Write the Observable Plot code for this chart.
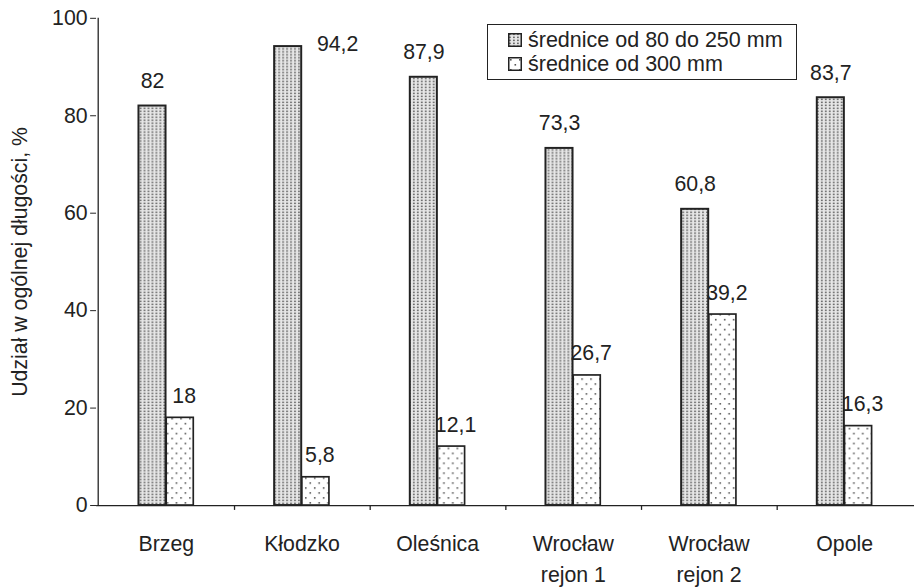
<!DOCTYPE html>
<html>
<head>
<meta charset="utf-8">
<script src="https://cdn.jsdelivr.net/npm/d3@7"></script>
<script src="https://cdn.jsdelivr.net/npm/@observablehq/plot@0.6"></script>
<style>
  html, body { margin: 0; padding: 0; background: #fff; overflow: hidden; }
  #chart { position: relative; width: 915px; height: 587px; overflow: hidden; }
  .legend {
    position: absolute; left: 487px; top: 24px; width: 310px; height: 56px;
    box-sizing: border-box; border: 1.5px solid #222; background: #fff;
    font: 21.5px "Liberation Sans", Arial, sans-serif; color: #222;
    padding: 3px 0 0 20px; line-height: 24px;
  }
  .legend .row { display: flex; align-items: center; white-space: nowrap; }
  .legend svg { margin-right: 6px; flex: none; }
</style>
</head>
<body>
<div id="chart"></div>
<script>
// Udział średnic w ogólnej długości sieci, według rejonów
const categories = ["Brzeg", "Kłodzko", "Oleśnica", "Wrocław\nrejon 1", "Wrocław\nrejon 2", "Opole"];
const smallDiam = [82, 94.2, 87.9, 73.3, 60.8, 83.7];   // średnice od 80 do 250 mm
const largeDiam = [18, 5.8, 12.1, 26.7, 39.2, 16.3];    // średnice od 300 mm
const seriesNames = ["średnice od 80 do 250 mm", "średnice od 300 mm"];
const yTicks = [0, 20, 40, 60, 80, 100];
const yLabel = "Udział w ogólnej długości, %";

const rows = categories.map((c, i) => ({category: c, small: smallDiam[i], large: largeDiam[i]}));
const fmt = v => String(v).replace(".", ",");

// layout
const W = 924, H = 587;
const mLeft = 97, mRight = 1, mTop = 18, mBottom = 77;
const step = (W - mLeft - mRight) / categories.length;
const barW = 28;
const half = step / 2;
const ink = "#222";
const fs = 21.5;
const font = '"Liberation Sans", Arial, sans-serif';

const patterns = `
  <pattern id="pat-small" patternUnits="userSpaceOnUse" width="4" height="3">
    <rect width="4" height="3" fill="#e6e6e6"/>
    <rect x="1" y="0.6" width="1.8" height="1.5" fill="#6a6a6a"/>
  </pattern>
  <pattern id="pat-large" patternUnits="userSpaceOnUse" width="9" height="10">
    <rect width="9" height="10" fill="#fff"/>
    <rect x="2" y="2" width="1.6" height="1.6" fill="#555"/>
    <rect x="6.5" y="7" width="1.6" height="1.6" fill="#555"/>
  </pattern>`;

const chart = Plot.plot({
  width: W, height: H,
  marginLeft: mLeft, marginRight: mRight, marginTop: mTop, marginBottom: mBottom,
  style: {fontFamily: font, fontSize: fs + "px", color: ink, background: "#fff", overflow: "visible"},
  x: {domain: categories, padding: 0, axis: null},
  y: {domain: [0, 100], axis: null},
  marks: [
    // bars
    Plot.barY(rows, {x: "category", y: "small", fill: "url(#pat-small)", stroke: ink, strokeWidth: 2,
      insetLeft: half - barW, insetRight: half}),
    Plot.barY(rows, {x: "category", y: "large", fill: "url(#pat-large)", stroke: ink, strokeWidth: 1.7,
      insetLeft: half, insetRight: half - barW}),
    // axis lines
    Plot.ruleY([0], {stroke: ink, strokeWidth: 1.3}),
    Plot.ruleX([categories[0]], {x: d => d, dx: -half, stroke: ink, strokeWidth: 1.3}),
    // separator ticks between categories
    Plot.ruleX(categories.slice(0, -1), {x: d => d, dx: half, y1: 0, y2: -1, stroke: ink, strokeWidth: 1.3}),
    Plot.axisY({ticks: yTicks, tickSize: 6, tickPadding: 3, label: null, stroke: ink, fill: ink, fontSize: fs}),
    Plot.axisX({tickSize: 0, tickPadding: 24, label: null, lineHeight: 1.45, fill: ink, fontSize: fs}),
    Plot.text([yLabel], {frameAnchor: "left", rotate: -90, dx: -77, textAnchor: "middle", fill: ink, fontSize: fs}),
    // value labels: above the bar, or beside it when the bar nearly reaches the top
    Plot.text(rows.filter(d => d.small <= 90), {x: "category", y: "small", text: d => fmt(d.small),
      dx: -barW / 2, dy: -25, fill: ink, fontSize: fs}),
    Plot.text(rows.filter(d => d.small > 90), {x: "category", y: "small", text: d => fmt(d.small),
      dx: 15, dy: -2, textAnchor: "start", fill: ink, fontSize: fs}),
    Plot.text(rows, {x: "category", y: "large", text: d => fmt(d.large),
      dx: barW / 2 + 4, dy: -22, fill: ink, fontSize: fs})
  ]
});

d3.select(chart).insert("defs", ":first-child").html(patterns);
const host = document.getElementById("chart");
host.appendChild(chart);

// legend
const legend = document.createElement("div");
legend.className = "legend";
seriesNames.forEach((name, i) => {
  const row = document.createElement("div");
  row.className = "row";
  const id = i === 0 ? "pat-small" : "pat-large";
  row.innerHTML = `<svg width="14" height="14"><rect x="0.75" y="0.75" width="12.5" height="12.5" fill="url(#${id})" stroke="${ink}" stroke-width="1.5"/></svg><span>${name}</span>`;
  legend.appendChild(row);
});
host.appendChild(legend);
</script>
</body>
</html>
